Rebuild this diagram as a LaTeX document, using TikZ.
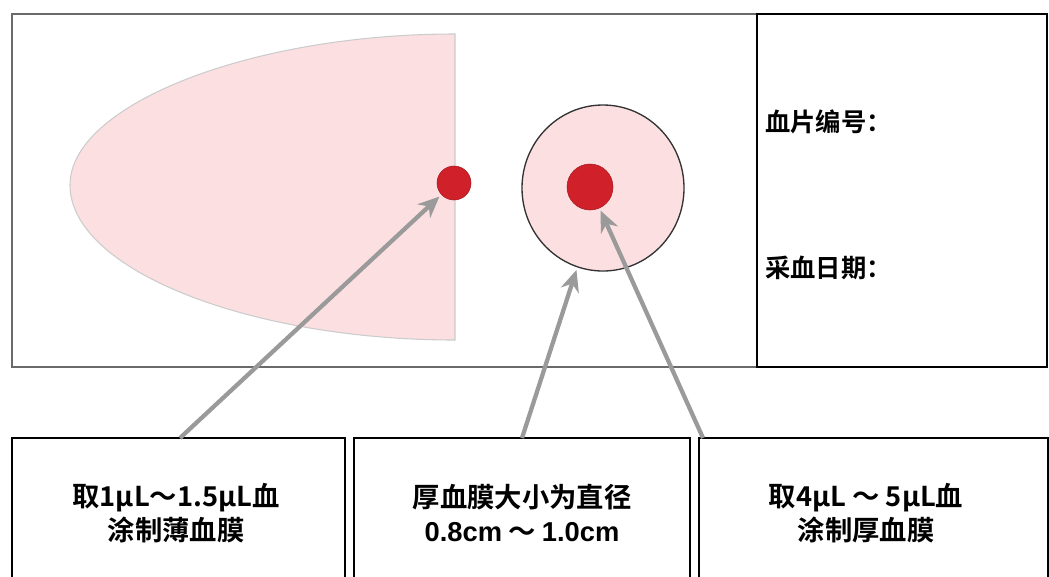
\documentclass[tikz,border=0pt]{standalone}
\usepackage{fontspec}
\setmainfont{Noto Sans CJK SC}
\newfontfamily\cjkb{Noto Sans CJK SC Bold}
\newfontfamily\latb{Liberation Sans}
\usetikzlibrary{arrows.meta,shapes.geometric}
\definecolor{smear}{HTML}{FCE0E1}
\definecolor{blood}{HTML}{D0202A}
\definecolor{arrowgray}{HTML}{9A9A9A}
\definecolor{framegray}{HTML}{6A6A6A}
\tikzset{
  labeltext/.style={font=\cjkb\fontsize{19}{22}\selectfont, anchor=west, inner sep=0pt},
  boxtext/.style={font=\cjkb\fontsize{20.5}{25}\selectfont, align=center, inner sep=0pt},
  callbox/.style={draw=black, line width=1.6pt},
  pointer/.style={draw=arrowgray, line width=3.2pt, -{Stealth[length=16pt,width=14pt]}, shorten >=2pt},
}
\begin{document}
\begin{tikzpicture}[x=0.75pt,y=-0.75pt]
\useasboundingbox (0,0) rectangle (1049,576);
\fill[white] (0,0) rectangle (1049,576);
% slide
\draw[framegray, line width=1.6pt] (12,14) rectangle (1047,367);
% smear
\draw[fill=smear, draw=black!20, line width=0.8pt] (455,34) .. controls (250,34) and (70,105) .. (70,185) .. controls (70,270) and (250,340) .. (455,340) -- cycle;
\node[circle, fill=blood, draw=blood!80!black, line width=0.4pt, minimum size=34*0.75pt, inner sep=0pt] (dot1) at (454,183) {};
% thick smear
\node[ellipse, draw=black!80, fill=smear, line width=1pt, minimum width=162*0.75pt, minimum height=166*0.75pt, inner sep=0pt] (thick) at (603,188) {};
\node[circle, fill=blood, draw=blood!80!black, line width=0.4pt, minimum size=46*0.75pt, inner sep=0pt] (dot2) at (590,187) {};
% label area
\node[draw=black, line width=1.6pt, minimum width=290*0.75pt, minimum height=353*0.75pt, inner sep=0pt] (label) at (902,190.5) {};
\node[labeltext] (num) at (765,122) {血片编号：};
\node[labeltext] (date) at (765,268) {采血日期：};
% callout boxes
\node[callbox, minimum width=333*0.75pt, minimum height=150*0.75pt, inner sep=0pt] (b1) at (178.5,513) {};
\node[callbox, minimum width=336*0.75pt, minimum height=150*0.75pt, inner sep=0pt] (b2) at (522,513) {};
\node[callbox, minimum width=349*0.75pt, minimum height=150*0.75pt, inner sep=0pt] (b3) at (873.5,513) {};
\node[boxtext] (t1) at (176,513) {取1μL～1.5μL血\\涂制薄血膜};
\node[boxtext] (t2) at (522,513) {厚血膜大小为直径\\{\latb\bfseries 0.8cm} ～ {\latb\bfseries 1.0cm}};
\node[boxtext] (t3) at (866,513) {取4μL ～ 5μL血\\涂制厚血膜};
% arrows
\coordinate (s1) at (180,438);
\coordinate (s2) at (522,438);
\coordinate (s3) at (703,438);
\draw[pointer] (s1) -- (dot1);
\draw[pointer] (s2) -- (thick);
\draw[pointer] (s3) -- (dot2);
\end{tikzpicture}
\end{document}
